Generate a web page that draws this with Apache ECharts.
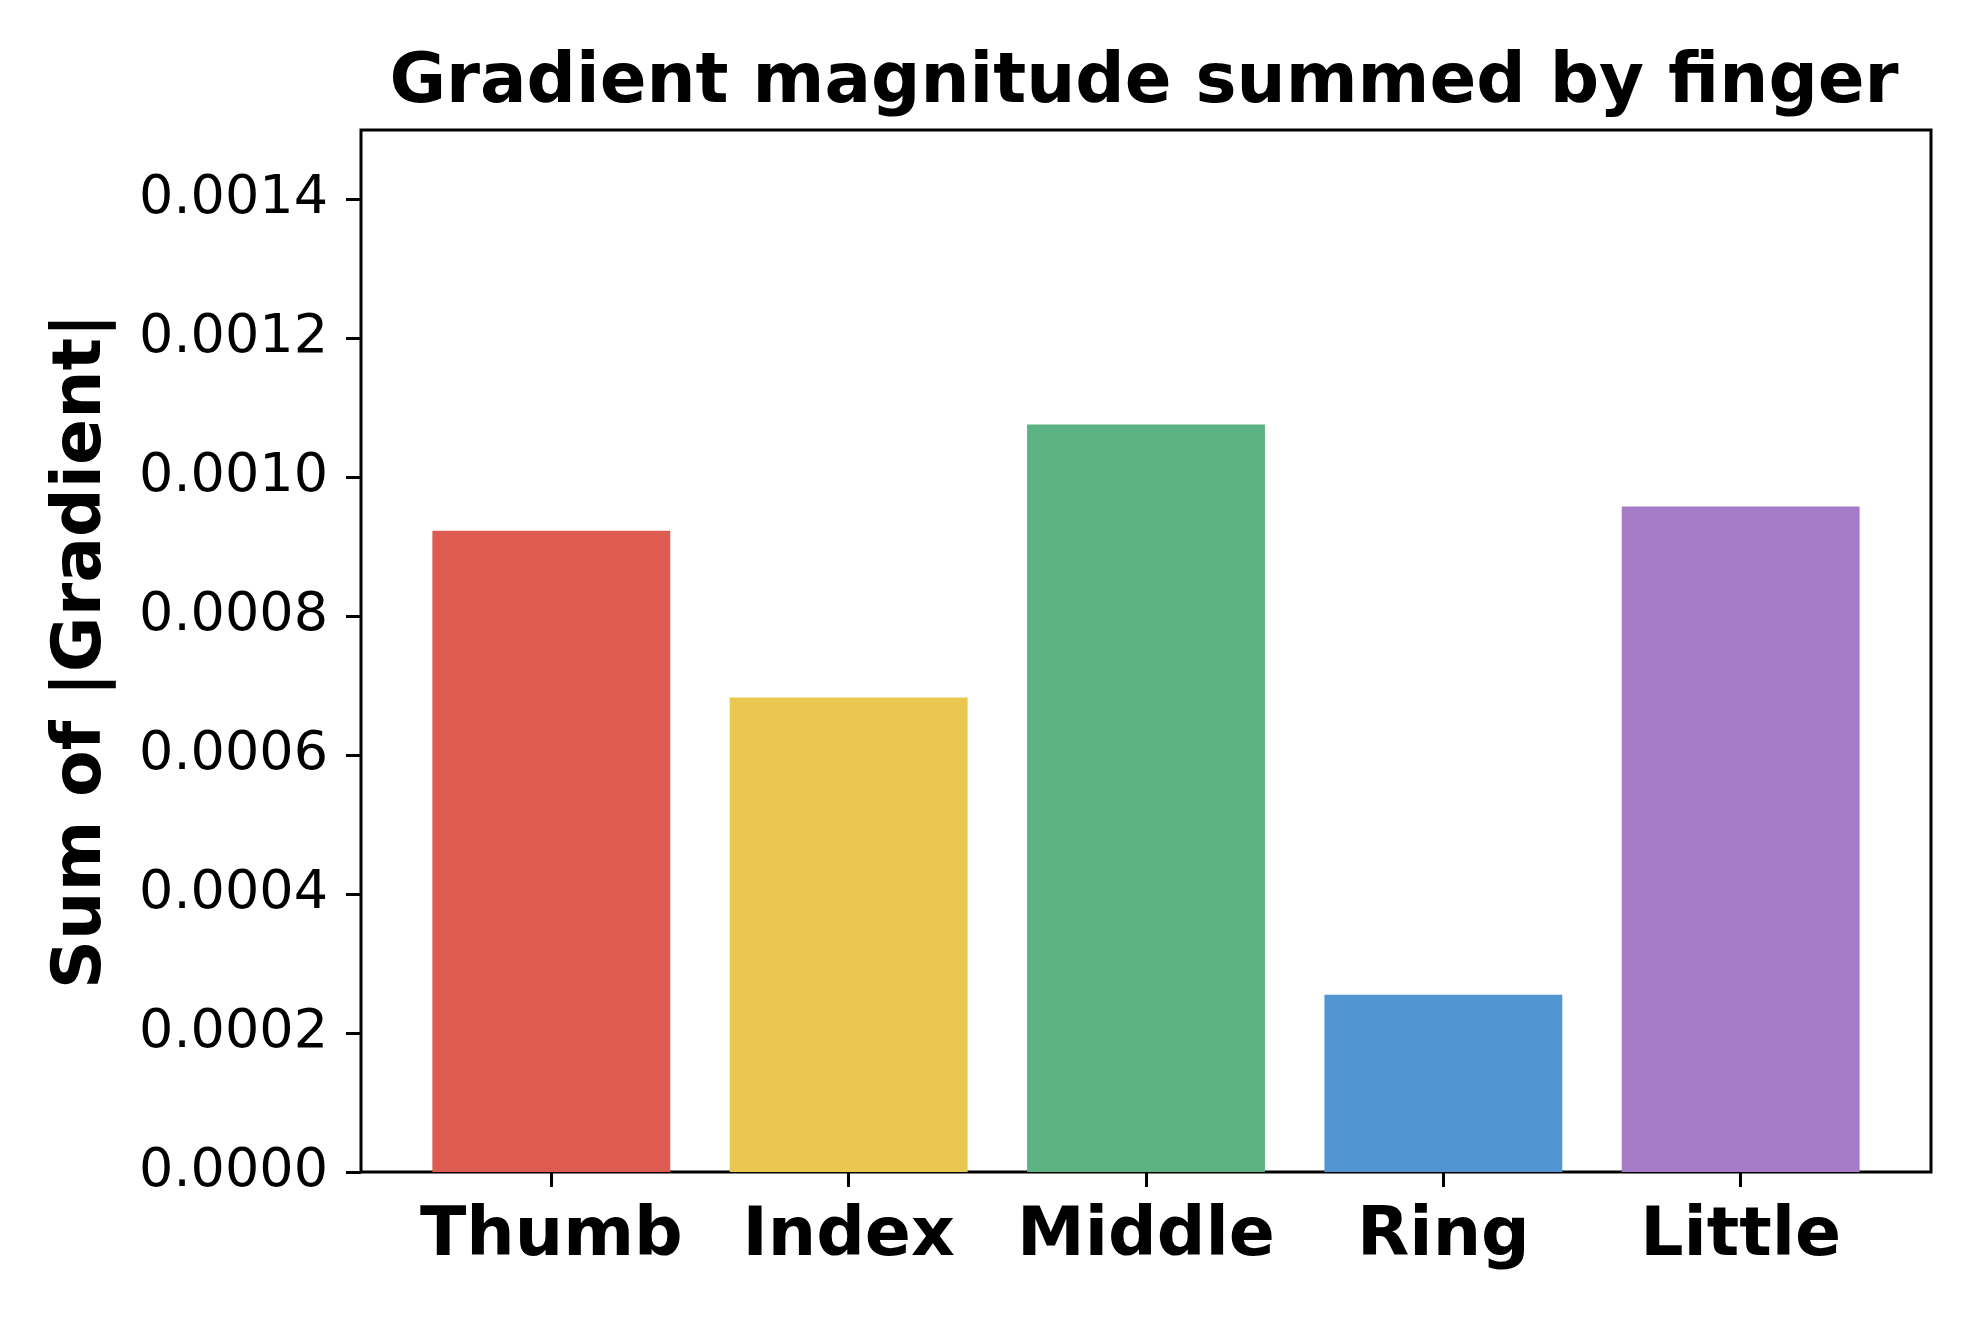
<!DOCTYPE html>
<html>
<head>
<meta charset="utf-8">
<script src="https://cdn.jsdelivr.net/npm/echarts@6/dist/echarts.min.js"></script>
<style>html,body{margin:0;padding:0;background:#fff}#c{width:1980px;height:1320px}</style>
</head>
<body>
<div id="c"></div>
<script>
const fingers = ['Thumb', 'Index', 'Middle', 'Ring', 'Little'];
const gradientSums = [0.000923, 0.000683, 0.001076, 0.000255, 0.000958];
const barColors = ['#DD5B50', '#E9C750', '#5CB282', '#5196D2', '#A57AC7'];
const yTicks = [0, 0.0002, 0.0004, 0.0006, 0.0008, 0.0010, 0.0012, 0.0014];
const yMin = 0, yMax = 0.0015;

const FONT = 'DejaVu Sans';
// frame (matplotlib axes box)
const fL = 361, fT = 130, fW = 1570, fH = 1042;
// x-limits like matplotlib: -0.64 .. 4.64 for 5 bars
const unit = fW / 5.28;
const innerL = fL + 0.14 * unit, innerW = 5 * unit;

const chart = echarts.init(document.getElementById('c'), null, {renderer: 'canvas'});
chart.setOption({
  backgroundColor: '#fff',
  animation: false,
  title: {
    text: 'Gradient magnitude summed by finger',
    left: fL + fW / 2 - 7, top: 45, textAlign: 'center',
    textStyle: {fontFamily: FONT, fontWeight: 'bold', fontSize: 69, color: '#000'}
  },
  grid: [
    {left: innerL, top: fT, width: innerW, height: fH, containLabel: false},
    {left: fL, top: fT, width: fW, height: fH, show: true, borderColor: '#000', borderWidth: 3, backgroundColor: 'transparent', containLabel: false}
  ],
  xAxis: [
    {
      type: 'category', gridIndex: 0, data: fingers,
      axisLine: {show: false},
      axisTick: {show: true, alignWithLabel: true, length: 15, lineStyle: {color: '#000', width: 3}},
      axisLabel: {interval: 0, fontFamily: FONT, fontWeight: 'bold', fontSize: 68, color: '#000', margin: 31},
      splitLine: {show: false}
    },
    {type: 'value', gridIndex: 1, show: false, min: 0, max: 1}
  ],
  yAxis: [
    {type: 'value', gridIndex: 0, min: yMin, max: yMax, show: false, splitLine: {show: false}},
    {
      type: 'value', gridIndex: 1, min: yMin, max: yMax,
      name: 'Sum of |Gradient|', nameLocation: 'middle', nameGap: 245, nameRotate: 90,
      nameTextStyle: {fontFamily: FONT, fontWeight: 'bold', fontSize: 68, color: '#000'},
      axisLine: {show: false},
      axisTick: {show: true, length: 15, lineStyle: {color: '#000', width: 3}, customValues: yTicks},
      axisLabel: {fontFamily: FONT, fontSize: 54, color: '#000', margin: 33, customValues: yTicks,
        formatter: v => v.toFixed(4)},
      splitLine: {show: false}
    }
  ],
  series: [{
    type: 'bar', xAxisIndex: 0, yAxisIndex: 0,
    barWidth: '80%',
    data: gradientSums.map((v, i) => ({value: v, itemStyle: {color: barColors[i]}}))
  }]
});
</script>
</body>
</html>
